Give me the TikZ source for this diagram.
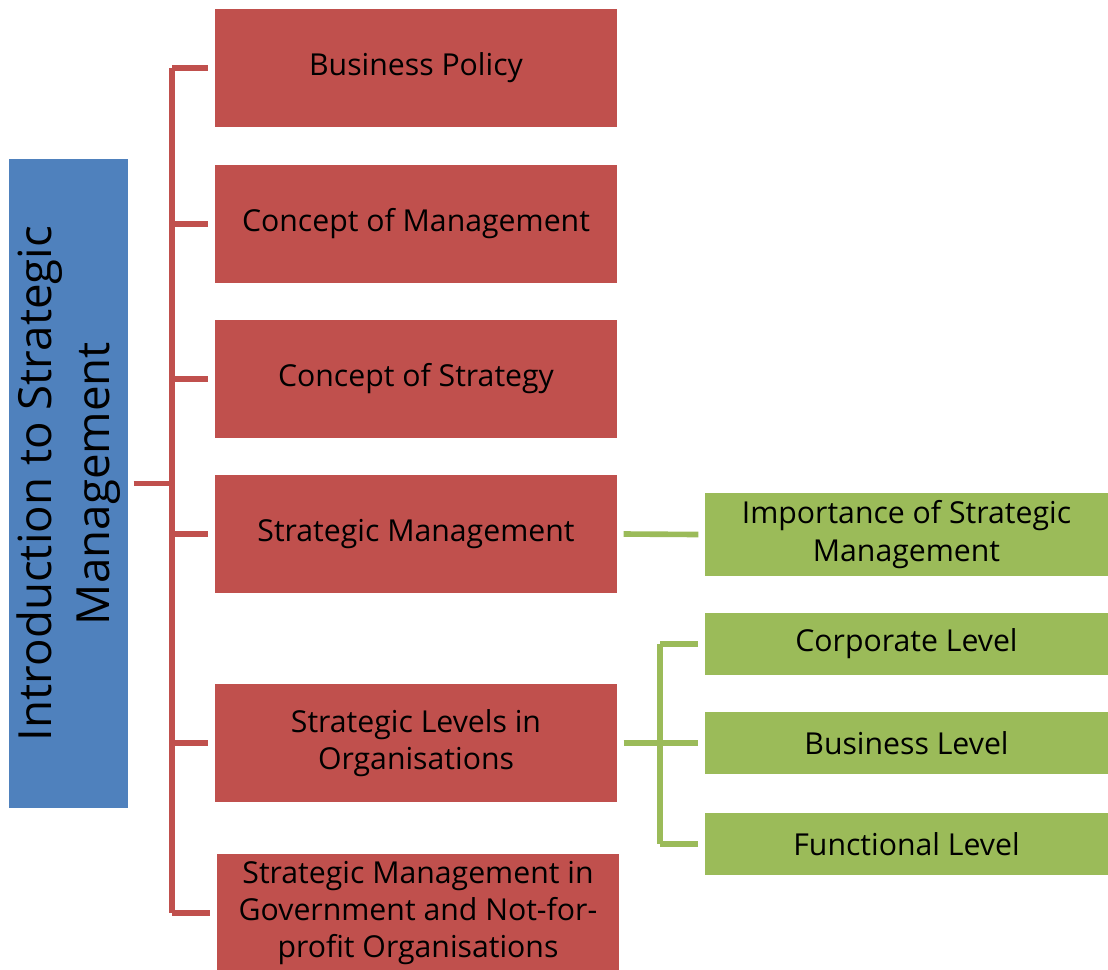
\documentclass[tikz,border=0pt]{standalone}
\usepackage{fontspec}
\setmainfont{Open Sans}
\usetikzlibrary{positioning}
\definecolor{bluecol}{HTML}{4F81BD}
\definecolor{redcol}{HTML}{C0504D}
\definecolor{greencol}{HTML}{9BBB59}
\tikzstyle{topic}=[fill=redcol,minimum width=4.02cm,minimum height=1.18cm,align=center,inner sep=0,font=\fontsize{8.6}{10.6}\selectfont]
\tikzstyle{sub}=[fill=greencol,minimum width=4.03cm,align=center,inner sep=0,font=\fontsize{8.6}{10.6}\selectfont]
\tikzstyle{redline}=[redcol,line width=1.6pt]
\tikzstyle{greenline}=[greencol,line width=1.6pt]

\begin{document}
\begin{tikzpicture}
    \useasboundingbox (0,0) rectangle (11.08,-9.69);
    \clip (0,0) rectangle (11.08,-9.69);

    % main topic
    \node[fill=bluecol,minimum width=6.49cm,minimum height=1.19cm,inner sep=0,
        rotate=90,align=center,font=\fontsize{13}{16.5}\selectfont]
        (intro) at (0.685,-4.835) {Introduction to Strategic\\Management};

    % topics
    \node[topic] (policy) at (4.16,-0.68) {Business Policy};
    \node[topic] (concept) at (4.16,-2.24) {Concept of Management};
    \node[topic] (strategy) at (4.16,-3.79) {Concept of Strategy};
    \node[topic] (stratman) at (4.16,-5.34) {Strategic Management};
    \node[topic] (levels) at (4.16,-7.43) {Strategic Levels in\\Organisations};
    \node[topic] (govt) at (4.18,-9.13) {Strategic Management in\\Government and Not-for-\\profit Organisations};

    % sub topics
    \node[sub,minimum height=0.83cm] (importance) at (9.065,-5.345) {Importance of Strategic\\Management};
    \node[sub,minimum height=0.62cm] (corporate) at (9.065,-6.44) {Corporate Level};
    \node[sub,minimum height=0.62cm] (business) at (9.065,-7.43) {Business Level};
    \node[sub,minimum height=0.62cm] (functional) at (9.065,-8.44) {Functional Level};

    % red tree
    \coordinate (spine) at (1.72,0);
    \draw[redline] ([xshift=0.05cm]intro.south) -- (spine |- intro.south);
    \draw[redline] (spine |- policy) -- (spine |- govt);
    \foreach \t in {policy,concept,strategy,stratman,levels,govt}
        \draw[redline] (spine |- \t) -- ([xshift=-0.06cm]\t.west);

    % green tree
    \coordinate (branch) at (6.60,0);
    \draw[greenline] ([xshift=0.06cm]stratman.east) -- ([xshift=-0.06cm]importance.west);
    \draw[greenline] ([xshift=0.06cm]levels.east) -- (branch |- levels);
    \draw[greenline] (branch |- corporate) -- (branch |- functional);
    \foreach \t in {corporate,business,functional}
        \draw[greenline] (branch |- \t) -- ([xshift=-0.06cm]\t.west);
\end{tikzpicture}
\end{document}
